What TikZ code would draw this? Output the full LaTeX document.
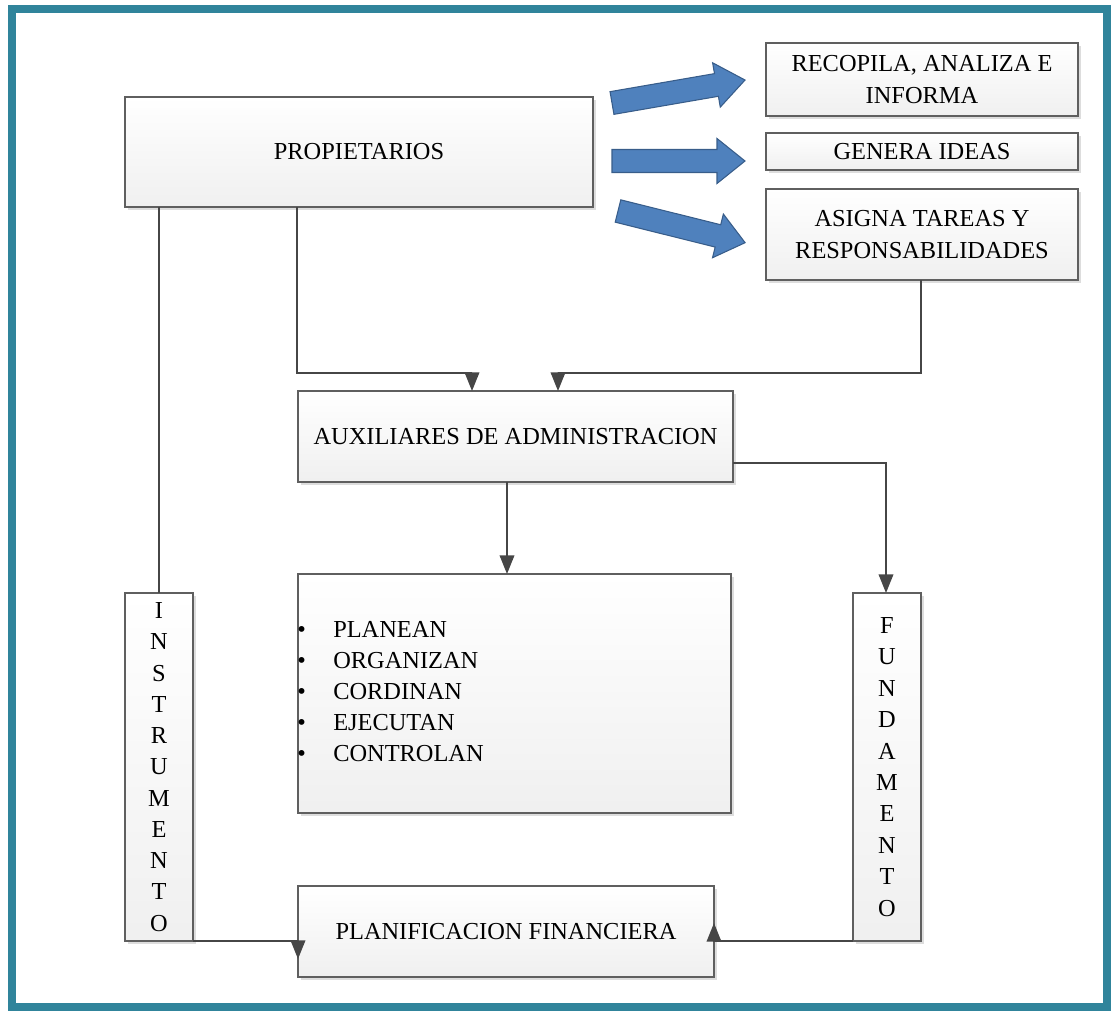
\documentclass[tikz,border=0pt]{standalone}
\usepackage{fontspec}
\setmainfont{Liberation Serif}
\usetikzlibrary{arrows.meta,shadows}
\definecolor{frameteal}{RGB}{48,132,155}
\definecolor{linegray}{RGB}{70,70,70}
\definecolor{boxline}{RGB}{95,95,95}
\definecolor{arrblue}{RGB}{79,129,189}
\definecolor{arrline}{RGB}{56,93,138}
\tikzset{
  box/.style={draw=boxline, line width=1.1pt, inner sep=0pt, outer sep=0pt,
    top color=white, bottom color=gray!12,
    drop shadow={shadow xshift=2pt, shadow yshift=-2pt, fill=gray!45, opacity=0.6},
    font=\fontsize{18.3}{23.8}\selectfont, align=center},
  conn/.style={draw=linegray, line width=1.1pt},
  arr/.style={conn, -{Triangle[width=11pt,length=14pt]}, fill=none},
  blockarr/.style={fill=arrblue, draw=arrline, line width=0.8pt},
}
\begin{document}
\begin{tikzpicture}[x=0.75pt,y=-0.75pt]
\useasboundingbox (0,0) rectangle (1111,1011);
\draw[frameteal, line width=6pt] (12,9) rectangle (1107,1007);

% boxes
\node[box, minimum width=351pt, minimum height=82.5pt] (prop) at (359,152) {PROPIETARIOS};
\node[box, minimum width=234pt, minimum height=54.75pt] (recop) at (922,79.5) {RECOPILA, ANALIZA E\\INFORMA};
\node[box, minimum width=234pt, minimum height=27.75pt] (genera) at (922,151.5) {GENERA IDEAS};
\node[box, minimum width=234pt, minimum height=68.25pt] (asigna) at (922,234.5) {ASIGNA TAREAS Y\\RESPONSABILIDADES};
\node[box, minimum width=326.25pt, minimum height=68.25pt] (aux) at (515.5,436.5) {AUXILIARES DE ADMINISTRACION};
\node[box, minimum width=324.75pt, minimum height=179.25pt] (acts) at (514.5,693.5) {};
\node[font=\fontsize{18.3}{23.3}\selectfont, align=left, anchor=north west, inner sep=0pt]
  (list) at (297,621) {\makebox[27pt][l]{\textbullet}PLANEAN\\
  \makebox[27pt][l]{\textbullet}ORGANIZAN\\
  \makebox[27pt][l]{\textbullet}CORDINAN\\
  \makebox[27pt][l]{\textbullet}EJECUTAN\\
  \makebox[27pt][l]{\textbullet}CONTROLAN};
\node[box, minimum width=51pt, minimum height=261pt, font=\fontsize{18.3}{23.45}\selectfont] (instr) at (159,767) {I\\N\\S\\T\\R\\U\\M\\E\\N\\T\\O};
\node[box, minimum width=51pt, minimum height=261pt, font=\fontsize{18.3}{23.55}\selectfont] (fund) at (887,767) {F\\U\\N\\D\\A\\M\\E\\N\\T\\O};
\node[box, minimum width=312pt, minimum height=68.25pt] (plan) at (506,931.5) {PLANIFICACION FINANCIERA};

% block arrows
\begin{scope}[shift={(612,103)}, rotate=9.8]
  \filldraw[blockarr] (0,-11.5) -- (106,-11.5) -- (106,-22.5) -- (135,0) -- (106,22.5) -- (106,11.5) -- (0,11.5) -- cycle;
\end{scope}
\begin{scope}[shift={(612,161)}]
  \filldraw[blockarr] (0,-11.5) -- (105,-11.5) -- (105,-22.5) -- (133,0) -- (105,22.5) -- (105,11.5) -- (0,11.5) -- cycle;
\end{scope}
\begin{scope}[shift={(618,211)}, rotate=-14]
  \filldraw[blockarr] (0,-11.5) -- (103,-11.5) -- (103,-22.5) -- (131,0) -- (103,22.5) -- (103,11.5) -- (0,11.5) -- cycle;
\end{scope}

% connectors
\coordinate (b1) at (297,373);
\coordinate (b2) at (472,373);
\coordinate (b3) at (921,373);
\coordinate (b4) at (558,373);
\coordinate (b5) at (159,0);
\coordinate (b6) at (507,0);
\coordinate (b7) at (886,463);
\coordinate (b8) at (298,959);
\coordinate (b9) at (714,923);

\draw[arr] (prop.south -| b1) -- (b1) -- (b2) -- (aux.north -| b2);
\draw[arr] (asigna.south -| b3) -- (b3) -- (b4) -- (aux.north -| b4);
\draw[conn] (prop.south -| b5) -- (instr.north -| b5);
\draw[arr] (aux.south -| b6) -- (acts.north -| b6);
\draw[arr] (aux.east |- b7) -- (b7) -- (fund.north -| b7);
\draw[arr] (instr.south east) -- (b8 |- instr.south) -- (b8);
\draw[arr] (fund.south west) -- (b9 |- fund.south) -- (b9);
\end{tikzpicture}
\end{document}
